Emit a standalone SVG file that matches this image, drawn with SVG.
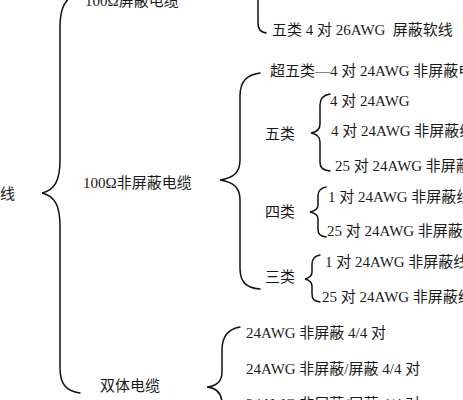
<svg xmlns="http://www.w3.org/2000/svg" width="463" height="400" viewBox="0 0 463 400">
<style>
.t{font-family:"Liberation Serif","Noto Sans CJK SC",serif;font-size:15px;fill:#1a1a1a}
.b{fill:none;stroke:#111;stroke-width:1.5;stroke-linecap:round}
</style>
<rect width="463" height="400" fill="#fff"/>
<g id="connectors">
<path class="b" d="M72,-4 C63,2 60,12 60,28 L60,160 C60,180 55,190 42,193 C55,196 60,206 60,226 L60,368 C60,384 66,391 80,393"/>
<path class="b" d="M258,-10 L258,22 C258,29 260,32 266,33"/>
<path class="b" d="M260,73 C246,75 240,82 240,96 L240,160 C240,172 234,178 220,180 C234,182 240,188 240,200 L240,268 C240,282 246,288 260,289"/>
<path class="b" d="M330,94 C323,95 320,99 320,105 L320,124 C320,129 317,132 311,133 C317,134 320,137 320,142 L320,162 C320,168 323,170 330,171"/>
<path class="b" d="M326,187 C320,188 318,191 318,196 L318,205 C318,209 315,211 310,212 C315,213 318,215 318,219 L318,229 C318,234 320,236 326,237"/>
<path class="b" d="M320,255 C314,256 312,259 312,264 L312,272 C312,276 309,278 305,279 C309,280 312,282 312,286 L312,294 C312,299 314,301 320,302"/>
<path class="b" d="M240,327 C228,329 222,336 222,350 L222,372 C222,381 217,386 207,387 C217,388 222,393 222,404"/>
</g>
<g id="root"><text class="t" x="0" y="199">线</text></g>
<g id="shielded"><text class="t" x="85" y="6">100Ω屏蔽电缆</text></g>
<g id="shielded-1"><text class="t" x="272" y="35" xml:space="preserve">五类 4 对 26AWG  屏蔽软线</text></g>
<g id="unshielded"><text class="t" x="83" y="188">100Ω非屏蔽电缆</text></g>
<g id="cat5e"><text class="t" x="270" y="76">超五类—4 对 24AWG 非屏蔽电缆</text></g>
<g id="cat5"><text class="t" x="265" y="139">五类</text></g>
<g id="cat5-1"><text class="t" x="330" y="106">4 对 24AWG</text></g>
<g id="cat5-2"><text class="t" x="331" y="136">4 对 24AWG 非屏蔽线缆</text></g>
<g id="cat5-3"><text class="t" x="335" y="171">25 对 24AWG 非屏蔽线缆</text></g>
<g id="cat4"><text class="t" x="265" y="217">四类</text></g>
<g id="cat4-1"><text class="t" x="328" y="202">1 对 24AWG 非屏蔽线缆</text></g>
<g id="cat4-2"><text class="t" x="327" y="236">25 对 24AWG 非屏蔽线缆</text></g>
<g id="cat3"><text class="t" x="265" y="282">三类</text></g>
<g id="cat3-1"><text class="t" x="325" y="267">1 对 24AWG 非屏蔽线缆</text></g>
<g id="cat3-2"><text class="t" x="322" y="302">25 对 24AWG 非屏蔽线缆</text></g>
<g id="dual"><text class="t" x="100" y="391">双体电缆</text></g>
<g id="dual-1"><text class="t" x="246" y="338">24AWG 非屏蔽 4/4 对</text></g>
<g id="dual-2"><text class="t" x="246" y="374">24AWG 非屏蔽/屏蔽 4/4 对</text></g>
<g id="dual-3"><text class="t" x="246" y="409">24AWG 非屏蔽/屏蔽 4/4 对</text></g>
</svg>
